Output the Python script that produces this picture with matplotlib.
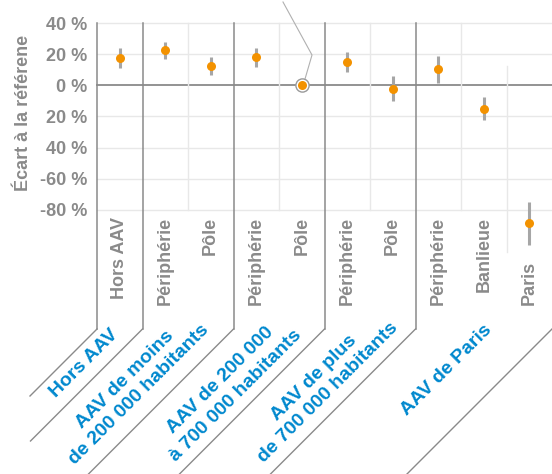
import matplotlib.pyplot as plt
import numpy as np

# values (percent gap to the reference category)
categories = ["Hors AAV", "Périphérie", "Pôle", "Périphérie", "Pôle",
              "Périphérie", "Pôle", "Périphérie", "Banlieue", "Paris"]
values = [17.5, 22.7, 12.4, 18.2, 0.0, 15.0, -2.4, 10.5, -15.2, -88.4]
err_low = [11.1, 16.9, 6.6, 11.7, np.nan, 8.5, -10.1, 1.5, -22.3, -102.5]
err_high = [23.9, 27.8, 18.2, 23.9, np.nan, 21.4, 6.0, 18.8, -7.5, -74.9]
ref_index = 4

groups = ["Hors AAV", "AAV de moins\nde 200 000 habitants",
          "AAV de 200 000\nà 700 000 habitants",
          "AAV de plus\nde 700 000 habitants", "AAV de Paris"]
group_bounds = [-0.5, 0.5, 2.5, 4.5, 6.5, 9.5]

yticks = [40, 20, 0, -20, -40, -60, -80]
ytick_labels = ["40 %", "20 %", "0 %", "20 %", "40 %", "-60 %", "-80 %"]

GRAY = '#8a8a8a'
DARK = '#8a8a8a'
LIGHT = '#e8e8e8'
BLUE = '#0088ce'
ORANGE = '#f39200'

plt.rcParams['font.family'] = ['Liberation Sans', 'DejaVu Sans']

W, H = 552, 474
fig = plt.figure(figsize=(W / 100, H / 100), dpi=100)
ax = fig.add_axes([97 / W, 1 - 210 / H, 455 / W, 187 / H])
ax.set_xlim(-0.5, 9.5)
ax.set_ylim(-80, 40)
for s in ax.spines.values():
    s.set_visible(False)
ax.set_xticks([])
ax.set_yticks(yticks)
ax.set_yticklabels(ytick_labels, fontsize=13, fontweight='bold', color=GRAY)
ax.tick_params(axis='y', length=0, pad=7)

# pixel helpers for the decorations below the plot
ppx = 455 / 10
ppy = 187 / 120


def to_data(px, py):
    return -0.5 + (px - 97) / ppx, 40 - (py - 23) / ppy


# horizontal grid
for y in yticks:
    ax.plot([-0.5, 9.5], [y, y], color=DARK if y == 0 else LIGHT,
            lw=1.3 if y == 0 else 1.0, zorder=1, clip_on=False)

# light column separators
for b in [1.5, 3.5, 5.5, 7.5]:
    ax.plot([b, b], [40, -80], color=LIGHT, lw=1.0, zorder=1, clip_on=False)
_, y_a = to_data(0, 66)
_, y_b = to_data(0, 252)
ax.plot([8.5, 8.5], [y_a, y_b], color=LIGHT, lw=1.0, zorder=1, clip_on=False)

# group separators with their slanted tails
_, y_bot = to_data(0, 329)
tails = [67, 112, 160, 160, 160, 160]
for b, L in zip(group_bounds, tails):
    if b < 9.5:
        ax.plot([b, b], [40, y_bot], color=DARK, lw=1.1, zorder=2, clip_on=False)
    ax.plot([b, b - L / ppx], [y_bot, y_bot - L / ppy], color=DARK, lw=1.0,
            zorder=2, clip_on=False)

# error bars and points
x = np.arange(len(categories))
ax.vlines(x, err_low, err_high, color='#a6a6a6', lw=2.2, zorder=3, clip_on=False)
ax.plot(x[ref_index], values[ref_index], 'o', ms=9.5, mfc='white',
        mec='#9a9a9a', mew=1.0, zorder=4, clip_on=False)
ax.plot(x, values, 'o', color=ORANGE, ms=6.5, mew=0, zorder=5, clip_on=False)

# pointer to the reference
pts = [to_data(283, 2), to_data(312, 55), to_data(305, 79)]
ax.plot([p[0] for p in pts], [p[1] for p in pts], color='#b0b0b0', lw=0.8,
        zorder=3, clip_on=False)

# category labels
_, y_lab = to_data(0, 217)
_, y_paris = to_data(0, 261)
for i, cat in enumerate(categories):
    yy = y_paris if cat == "Paris" else y_lab
    ax.text(i, yy, cat, rotation=90, rotation_mode='anchor', ha='right',
            va='center', fontsize=13, fontweight='bold', color=GRAY, clip_on=False)

# group labels
group_pos = [(84, 363), (132, 387), (228, 388), (321, 385), (447, 370)]
for g, (px, py) in zip(groups, group_pos):
    fig.text(px / W, 1 - py / H, g, rotation=45, rotation_mode='anchor',
             ha='center', va='center', multialignment='center', linespacing=1.3,
             fontsize=14, fontweight='bold', color=BLUE)

fig.text(24 / W, 1 - 113 / H, "Écart à la référene", rotation=90, ha='center',
         va='center', fontsize=13, fontweight='bold', color=GRAY)

fig.savefig('out.png', dpi=100)
